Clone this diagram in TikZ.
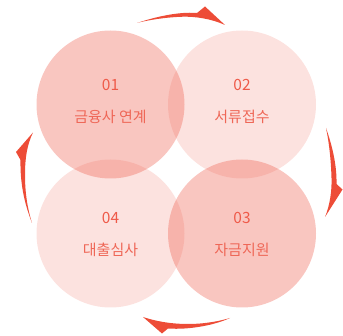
\documentclass[tikz,border=0pt]{standalone}
\usepackage{fontspec}
\setmainfont{Noto Sans CJK KR}
\definecolor{stepred}{RGB}{238,90,73}
\definecolor{arrowred}{RGB}{237,76,55}

\begin{document}
\begin{tikzpicture}[x=1pt,y=1pt]
\tikzstyle{every node}+=[inner sep=0pt]
\tikzstyle{circ}=[circle, minimum size=148pt, fill=stepred]
\tikzstyle{dark}=[circ, fill opacity=0.345]
\tikzstyle{light}=[circ, fill opacity=0.176]
\tikzstyle{num}=[text=stepred, font=\fontsize{15.5}{17}\selectfont]
\tikzstyle{lbl}=[text=stepred!92, font=\fontsize{15}{17}\selectfont]
\useasboundingbox (0,0) rectangle (343,-336);
\node [dark] (c1) at (110.5,-104.5) {};
\node [light] (c2) at (242,-104.5) {};
\node [dark] (c3) at (242,-233.5) {};
\node [light] (c4) at (110.5,-233.5) {};
\node [num] (n1) at (110.5,-85) {01};
\node [lbl] (t1) at (110.5,-117) {금융사 연계};
\node [num] (n2) at (242,-85) {02};
\node [lbl] (t2) at (242,-117) {서류접수};
\node [num] (n3) at (242,-217.5) {03};
\node [lbl] (t3) at (242,-250) {자금지원};
\node [num] (n4) at (110.5,-217.5) {04};
\node [lbl] (t4) at (110.5,-250) {대출심사};
\fill [arrowred] (137,-23) .. controls (155,-17) and (178,-11.5) .. (197,-13) -- (205,-6.5) -- (225,-25) .. controls (212,-19) and (195,-16) .. (180,-16.8) .. controls (165,-17.5) and (148,-20) .. cycle;
\fill [arrowred] (326,-128) .. controls (332,-145) and (337,-165) .. (336.5,-184) -- (342.5,-189.5) -- (325,-217) .. controls (330,-205) and (332,-190) .. (331.5,-178) .. controls (331,-160) and (329,-142) .. cycle;
\fill [arrowred] (230,-318) .. controls (215,-325) and (190,-330) .. (168,-328.5) -- (162,-333.5) -- (143,-317) .. controls (155,-321) and (170,-324) .. (188,-324) .. controls (205,-324) and (220,-321) .. cycle;
\fill [arrowred] (32,-223) .. controls (25,-205) and (20,-185) .. (20.5,-160) -- (16,-152) -- (33,-132.5) .. controls (27,-145) and (25,-158) .. (25,-175) .. controls (25,-195) and (28,-210) .. cycle;
\end{tikzpicture}
\end{document}
